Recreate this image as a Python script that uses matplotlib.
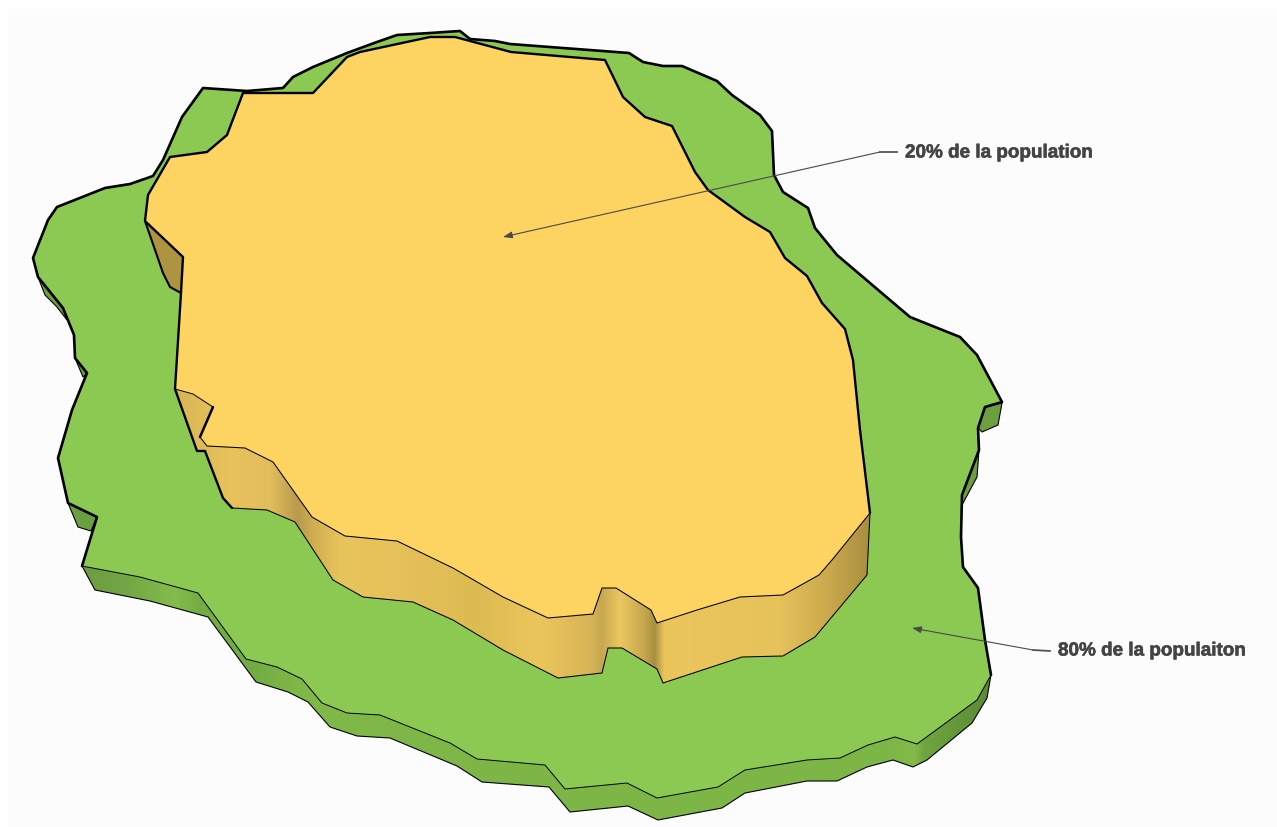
import numpy as np
import matplotlib
matplotlib.use("Agg")
import matplotlib.pyplot as plt
import matplotlib.patheffects as pe
from matplotlib.colors import LinearSegmentedColormap
from matplotlib.patches import Polygon, Rectangle

# outlines, in pixels of the 1277x827 image

# green slab, top face: back edge runs clockwise from the left front corner
green_back = [(82,566),(97,517),(68,503),(58,458),(72,410),(87,373),(75,358),(74,335),(63,308),(38,277),
              (33,258),(48,220),(57,207),(105,188),(130,184),(153,176),(163,160),(182,117),(203,88),(247,91),
              (283,88),(293,77),(313,67),(347,53),(377,42),(397,35),(430,33),(460,31),(470,39),(495,41),
              (510,44),(629,53),(643,62),(663,66),(682,66),(717,81),(732,95),(760,115),(772,131),(774,175),
              (783,192),(808,208),(815,228),(837,255),(910,317),(960,337),(977,355),(1002,402),(985,407),(978,428),
              (979,450),(962,495),(961,537),(963,567),(978,588),(985,640),(991,675)]
green_front = [(991,675),(977,700),(917,744),(895,737),(868,745),(840,758),(807,760),(745,770),(718,787),(657,798),
               (627,783),(565,789),(545,765),(477,759),(450,743),(380,715),(347,713),(322,703),(302,679),(277,667),
               (246,659),(198,593),(140,577),(82,566)]
green_bottom = [(991,675),(987,698),(972,723),(927,760),(913,767),(893,760),(867,767),(837,781),(807,781),(745,793),
                (722,808),(658,820),(628,806),(570,812),(549,787),(482,782),(457,766),(390,738),(357,736),(330,727),
                (308,702),(288,692),(256,682),(208,617),(150,601),(95,590),(82,566)]

# the small bits of green wall showing on the back side
green_bits = [[(38,277),(45,295),(57,307),(67,320),(63,308)],
              [(75,358),(83,377),(87,373)],
              [(68,503),(78,527),(91,531),(97,517)],
              [(1002,403),(985,407),(978,428),(982,432),(998,425)],
              [(979,450),(962,495),(962,505),(977,477)],
              ]

# yellow slab
yellow_back = [(175,389),(181,293),(183,257),(145,221),(148,195),(170,157),(207,152),(227,135),(243,93),(313,93),
               (347,57),(360,52),(430,37),(455,37),(470,41),(511,52),(605,60),(623,97),(645,117),(672,126),
               (695,172),(708,190),(745,217),(770,232),(785,258),(807,276),(822,303),(845,329),(853,360),(860,430),
               (870,513)]
yellow_front = [(870,513),(832,560),(819,575),(783,595),(740,597),(697,610),(657,623),(651,610),(616,588),(602,588),
                (593,614),(548,618),(503,597),(453,568),(397,541),(345,536),(312,517),(273,462),(245,448),(207,446),
                (200,437),(213,407),(193,394),(175,389)]
yellow_bottom = [(870,513),(867,575),(815,637),(783,656),(742,657),(663,683),(657,669),(622,648),(608,648),(602,673),
                 (558,678),(503,650),(453,620),(413,602),(363,597),(333,580),(295,522),(267,510),(232,508),(223,498),
                 (205,451),(197,451),(175,389)]
yellow_corner = [(145,221),(183,257),(181,293),(170,287),(163,273)]

# wall shading, left to right
green_shade_x = [82,130,175,198,250,300,550,890,915,925,990]
green_shade_c = ["#6c9c42","#74a845","#84bd4c","#74ad44","#72ab43","#80b849","#7db646","#7db646","#84bb4a","#6fa540","#5b8a35"]
yellow_shade_x = [175,230,270,297,315,340,400,480,540,590,602,620,645,655,665,780,830,870]
yellow_shade_c = ["#d8b656","#e8c25c","#e2bd5c","#b99a4c","#d2b052","#e8c45c","#e6c05a","#dcbb52","#ecc65c","#d8b456",
                  "#c6a850","#ecc862","#c4a64c","#a88f40","#ecc65c","#e6c25a","#c9a94c","#a98e3f"]

labels = ["20% de la population", "80% de la populaiton"]
label_pos = [(905,153), (1058,651)]
leader_elbow = [(880,152), (1033,650)]
leader_stub = [(897,152), (1050,651)]
arrow_tip = [(503,237), (912,628)]

GREEN = "#8bc953"
YELLOW = "#fdd462"


def shaded_wall(ax, pts, xs, colors, z):
    # horizontal gradient clipped to the wall outline
    x0, x1 = xs[0], xs[-1]
    cmap = LinearSegmentedColormap.from_list("w", [((x - x0) / (x1 - x0), c) for x, c in zip(xs, colors)], N=512)
    poly = Polygon(pts, closed=True, fc="none", ec="none", zorder=z)
    ax.add_patch(poly)
    im = ax.imshow(np.linspace(0, 1, 1024).reshape(1, -1), cmap=cmap, extent=(x0, x1, 827, 0),
                   aspect="auto", zorder=z, interpolation="bilinear")
    im.set_clip_path(poly)


def edge(ax, pts, lw, z):
    xs, ys = zip(*pts)
    ax.plot(xs, ys, color="black", lw=lw, zorder=z, solid_joinstyle="round", solid_capstyle="round")


fig = plt.figure(figsize=(12.77, 8.27), dpi=100)
ax = fig.add_axes([0, 0, 1, 1])
ax.add_patch(Rectangle((8, 9), 1269, 818, fc="#fcfcfc", ec="none", zorder=0))

# green slab
shaded_wall(ax, green_bottom, green_shade_x, green_shade_c, 1)
edge(ax, green_bottom, 0.8, 2)
for bit in green_bits:
    ax.add_patch(Polygon(bit, closed=True, fc="#6b9f3f", ec="black", lw=0.8, zorder=2))
ax.add_patch(Polygon(green_back + green_front, closed=True, fc=GREEN, ec="none", zorder=3))
edge(ax, green_back, 1.9, 4)
edge(ax, green_front, 0.7, 4)

# yellow slab
shaded_wall(ax, yellow_bottom, yellow_shade_x, yellow_shade_c, 5)
ax.add_patch(Polygon(yellow_corner, closed=True, fc="#ae9440", ec="none", zorder=5))
edge(ax, yellow_bottom[:-3], 0.75, 6)
edge(ax, yellow_bottom[-5:-2], 1.7, 6)
edge(ax, yellow_bottom[-3:], 1.7, 6)
edge(ax, yellow_corner[2:] + yellow_corner[:1], 1.5, 6)
ax.add_patch(Polygon(yellow_back + yellow_front, closed=True, fc=YELLOW, ec="none", zorder=7))
edge(ax, yellow_back, 1.7, 8)
edge(ax, yellow_front[:-3], 0.75, 8)
edge(ax, yellow_front[-4:-2], 1.8, 8)
edge(ax, yellow_front[-3:], 0.7, 8)

# callouts
for txt, pos, elbow, stub, tip in zip(labels, label_pos, leader_elbow, leader_stub, arrow_tip):
    ax.annotate("", xy=tip, xytext=elbow, zorder=9,
                arrowprops=dict(arrowstyle="-|>,head_length=0.55,head_width=0.2", color="#4a4a4a", lw=0.8,
                                shrinkA=0, shrinkB=0))
    ax.plot([elbow[0], stub[0]], [elbow[1], stub[1]], color="#555555", lw=1.3, zorder=9)
    ax.text(pos[0], pos[1], txt, fontsize=13.6, fontweight="bold", color="#444444", va="center", ha="left",
            family="Liberation Sans", zorder=10,
            path_effects=[pe.withStroke(linewidth=0.4, foreground="#444444")])

ax.set_xlim(0, 1277)
ax.set_ylim(827, 0)
ax.axis("off")

fig.savefig("out.png", dpi=100, facecolor="white")
